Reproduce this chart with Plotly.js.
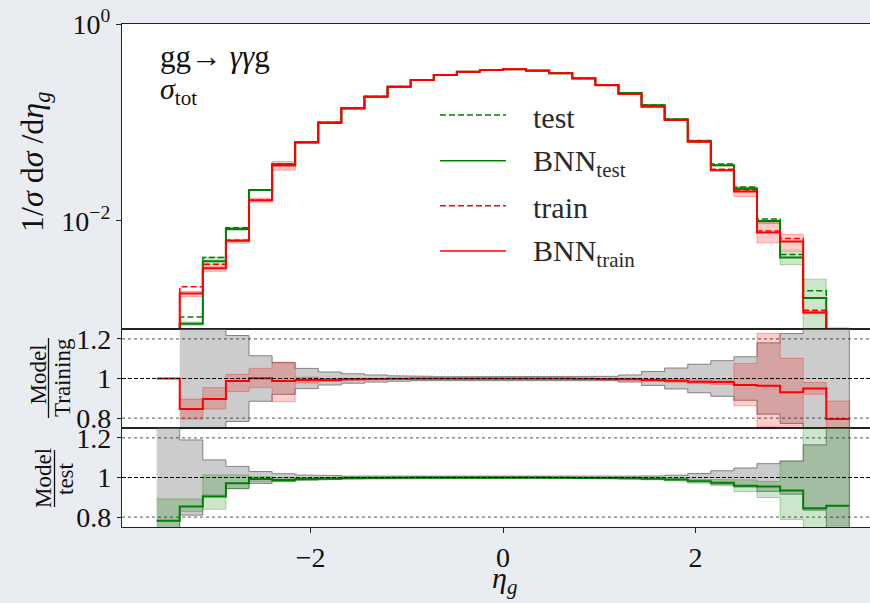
<!DOCTYPE html>
<html>
<head>
<meta charset="utf-8">
<script src="https://cdn.plot.ly/plotly-3.0.1.min.js"></script>
<style>
  html, body { margin: 0; padding: 0; background: rgb(233,236,240); overflow: hidden; }
  #chart { width: 890px; height: 603px; }
</style>
</head>
<body>
<div id="chart"></div>
<script>
// eta_g binning (30 bins of width 0.24)
const binEdges = [-3.6, -3.36, -3.12, -2.88, -2.64, -2.4, -2.16, -1.92, -1.68, -1.44, -1.2,
  -0.96, -0.72, -0.48, -0.24, 0, 0.24, 0.48, 0.72, 0.96, 1.2, 1.44, 1.68, 1.92, 2.16, 2.4,
  2.64, 2.88, 3.12, 3.36, 3.6];

// normalised distributions 1/sigma dsigma/deta_g
const test = [4.0e-4, 1.05e-3, 4.23e-3, 8.5e-3, 2.07e-2, 3.80e-2, 6.35e-2, 0.1005, 0.140, 0.183,
  0.231, 0.270, 0.303, 0.327, 0.340, 0.346, 0.336, 0.316, 0.281, 0.240,
  0.200, 0.150, 0.108, 0.0655, 0.0377, 0.0221, 0.0104, 0.00454, 0.00194, 6.0e-4];
const bnnTest = [3.12e-4, 9.0e-4, 3.88e-3, 8.25e-3, 2.05e-2, 3.75e-2, 6.30e-2, 0.0998, 0.1395, 0.1828,
  0.2308, 0.270, 0.303, 0.327, 0.340, 0.346, 0.336, 0.3158, 0.2805, 0.2394,
  0.1993, 0.1493, 0.1069, 0.0644, 0.0367, 0.0212, 0.00993, 0.00424, 0.00164, 5.1e-4];
const train = [2.0e-4, 2.13e-3, 3.62e-3, 6.35e-3, 1.62e-2, 3.70e-2, 6.30e-2, 0.0995, 0.139, 0.182,
  0.230, 0.269, 0.303, 0.327, 0.340, 0.346, 0.335, 0.315, 0.280, 0.239,
  0.195, 0.145, 0.107, 0.0645, 0.0333, 0.0205, 0.00789, 0.00661, 0.00123, 5.0e-4];
const bnnTrain = [2.0e-4, 1.82e-3, 3.30e-3, 6.25e-3, 1.62e-2, 3.65e-2, 6.25e-2, 0.0988, 0.1385, 0.1817,
  0.2298, 0.269, 0.303, 0.327, 0.340, 0.346, 0.335, 0.315, 0.2797, 0.2383,
  0.1942, 0.1439, 0.1058, 0.0635, 0.0327, 0.0198, 0.0076, 0.00615, 0.00117, 4.0e-4];

// Model / Training ratio, BNN uncertainty band and training statistics
const ratioTrain = [1.0, 0.846, 0.896, 0.987, 1.001, 0.987, 0.992, 0.993, 0.996, 0.998,
  0.999, 1.0, 1.0, 1.0, 1.0, 1.0, 1.0, 1.0, 0.999, 0.997,
  0.996, 0.992, 0.989, 0.984, 0.982, 0.967, 0.964, 0.930, 0.950, 0.795];
const trainBandLo = [null, 0.795, 0.846, 0.934, 0.954, 0.883, 0.977, 0.985, 0.990, 0.993,
  0.995, 0.996, 0.997, 0.997, 0.997, 0.997, 0.997, 0.997, 0.995, 0.993,
  0.991, 0.986, 0.981, 0.974, 0.970, 0.862, 0.757, 0.760, 0.920, 0.705];
const trainBandHi = [null, 0.896, 0.954, 1.021, 1.051, 1.082, 1.007, 1.001, 1.002, 1.003,
  1.003, 1.004, 1.003, 1.003, 1.003, 1.003, 1.003, 1.003, 1.003, 1.001,
  1.001, 0.998, 0.997, 0.994, 0.994, 1.076, 1.228, 1.102, 0.980, 0.886];
const trainStat = [null, 0.5, 0.5, 0.217, 0.115, 0.080, 0.051, 0.033, 0.024, 0.018,
  0.014, 0.011, 0.009, 0.008, 0.008, 0.008, 0.008, 0.009, 0.010, 0.011,
  0.018, 0.035, 0.053, 0.072, 0.090, 0.110, 0.180, 0.227, 0.5, 0.5];

// Model / test ratio, BNN uncertainty band and test statistics
const ratioTest = [0.781, 0.854, 0.904, 0.971, 0.992, 0.988, 0.993, 0.995, 0.997, 0.998,
  0.999, 1.0, 1.0, 1.0, 1.0, 1.0, 1.0, 0.999, 0.998, 0.997,
  0.996, 0.994, 0.990, 0.981, 0.973, 0.958, 0.955, 0.934, 0.845, 0.857];
const testBandLo = [0.67, 0.828, 0.840, 0.943, 0.980, 0.978, 0.985, 0.989, 0.992, 0.994,
  0.997, 0.997, 0.997, 0.997, 0.997, 0.997, 0.997, 0.997, 0.995, 0.993,
  0.992, 0.988, 0.982, 0.971, 0.958, 0.928, 0.899, 0.788, 0.375, 0.35];
const testBandHi = [0.892, 0.892, 1.013, 1.013, 1.004, 0.998, 1.001, 1.001, 1.002, 1.002,
  1.003, 1.003, 1.003, 1.003, 1.003, 1.003, 1.003, 1.003, 1.001, 1.001,
  1.000, 1.000, 0.998, 0.991, 0.988, 0.988, 0.980, 1.080, 1.315, 1.36];
const testStat = [0.5, 0.19, 0.089, 0.056, 0.030, 0.019, 0.013, 0.010, 0.007, 0.006,
  0.005, 0.004, 0.004, 0.004, 0.004, 0.004, 0.004, 0.004, 0.005, 0.006,
  0.007, 0.008, 0.012, 0.020, 0.034, 0.048, 0.070, 0.084, 0.165, 0.5];

const GREEN = '#008000', RED = '#ff0000';
const SERIF = '"Liberation Serif", "Times New Roman", serif';

// histogram outline drawn as a step line over the bin edges
function stepLine(vals, xa, ya, color, dash, width) {
  const x = [], y = [];
  vals.forEach((v, i) => { x.push(binEdges[i]); y.push(v); });
  x.push(binEdges[vals.length]); y.push(vals[vals.length - 1]);
  return { x, y, xaxis: xa, yaxis: ya, mode: 'lines', hoverinfo: 'skip', showlegend: false,
    line: { shape: 'hv', color, dash: dash || 'solid', width: width || 2 } };
}

// filled step band between lo and hi, one polygon per run of defined bins
function stepBand(lo, hi, xa, ya, fill, edge) {
  const traces = [];
  let run = [];
  const flush = () => {
    if (!run.length) return;
    const x = [], y = [];
    run.forEach(i => { x.push(binEdges[i], binEdges[i + 1]); y.push(hi[i], hi[i]); });
    run.slice().reverse().forEach(i => { x.push(binEdges[i + 1], binEdges[i]); y.push(lo[i], lo[i]); });
    traces.push({ x, y, xaxis: xa, yaxis: ya, mode: 'lines', fill: 'toself', fillcolor: fill,
      line: { color: edge, width: 1 }, hoverinfo: 'skip', showlegend: false });
    run = [];
  };
  lo.forEach((v, i) => { if (v === null || hi[i] === null) flush(); else run.push(i); });
  flush();
  return traces;
}

const scaleBy = (base, r) => r.map((v, i) => v === null ? null : base[i] * v);
const statLo = s => s.map(v => v === null ? null : 1 - v);
const statHi = s => s.map(v => v === null ? null : 1 + v);

const traces = [
  // main panel
  ...stepBand(scaleBy(test, testBandLo), scaleBy(test, testBandHi), 'x', 'y', 'rgba(0,128,0,0.2)', 'rgba(0,128,0,0.3)'),
  ...stepBand(scaleBy(train, trainBandLo), scaleBy(train, trainBandHi), 'x', 'y', 'rgba(255,0,0,0.2)', 'rgba(255,0,0,0.3)'),
  stepLine(test, 'x', 'y', GREEN, '6px,3px', 1.5),
  stepLine(bnnTest, 'x', 'y', GREEN, 'solid', 2),
  stepLine(train, 'x', 'y', RED, '6px,3px', 1.5),
  stepLine(bnnTrain, 'x', 'y', RED, 'solid', 2),
  // Model / Training
  ...stepBand(statLo(trainStat), statHi(trainStat), 'x2', 'y2', 'rgba(128,128,128,0.4)', 'rgba(90,90,90,0.7)'),
  ...stepBand(trainBandLo, trainBandHi, 'x2', 'y2', 'rgba(255,0,0,0.2)', 'rgba(255,0,0,0.3)'),
  stepLine(ratioTrain, 'x2', 'y2', RED, 'solid', 2),
  // Model / test
  ...stepBand(statLo(testStat), statHi(testStat), 'x3', 'y3', 'rgba(128,128,128,0.4)', 'rgba(90,90,90,0.7)'),
  ...stepBand(testBandLo, testBandHi, 'x3', 'y3', 'rgba(0,128,0,0.2)', 'rgba(0,128,0,0.3)'),
  stepLine(ratioTest, 'x3', 'y3', GREEN, 'solid', 2),
];

const SPINE = '#222';
const TICKFONT = { family: SERIF, size: 28, color: '#111' };
const xBase = { range: [-3.96, 3.96], showgrid: false, zeroline: false, showline: true, mirror: true,
  linecolor: SPINE, linewidth: 1.2, ticks: '', showticklabels: false };
const yRatio = { range: [0.75, 1.25], showgrid: false, zeroline: false, showline: true, mirror: true,
  linecolor: SPINE, linewidth: 1.2, ticks: 'outside', ticklen: 4, tickcolor: SPINE,
  tickvals: [0.8, 1, 1.2], ticktext: ['0.8', '1', '1.2'], tickfont: TICKFONT };

const pxX = px => (px - 122) / 762;
const pxY = py => (527 - py) / 503;

const shapes = [];
['y2', 'y3'].forEach(ya => {
  [0.8, 1.2].forEach(v => shapes.push({ type: 'line', xref: 'paper', yref: ya, x0: 0, x1: 1, y0: v, y1: v,
    line: { color: 'rgba(40,40,40,0.8)', width: 1, dash: 'dot' } }));
  shapes.push({ type: 'line', xref: 'paper', yref: ya, x0: 0, x1: 1, y0: 1, y1: 1,
    line: { color: '#000', width: 1.2, dash: '4px,2px' } });
});
// fraction bars of the ratio labels
shapes.push({ type: 'line', xref: 'paper', yref: 'paper', x0: pxX(48.5), x1: pxX(48.5), y0: pxY(338), y1: pxY(418),
  line: { color: '#111', width: 1.3 } });
shapes.push({ type: 'line', xref: 'paper', yref: 'paper', x0: pxX(54.5), x1: pxX(54.5), y0: pxY(450), y1: pxY(507),
  line: { color: '#111', width: 1.3 } });

// legend
const legendRows = [
  { label: 'test', color: GREEN, dash: '6px,3px', py: 115 },
  { label: 'BNN<sub>test</sub>', color: GREEN, dash: 'solid', py: 160.7 },
  { label: 'train', color: RED, dash: '6px,3px', py: 205.7 },
  { label: 'BNN<sub>train</sub>', color: RED, dash: 'solid', py: 251 },
];
legendRows.forEach(r => shapes.push({ type: 'line', xref: 'paper', yref: 'paper',
  x0: pxX(440), x1: pxX(506), y0: pxY(r.py), y1: pxY(r.py), line: { color: r.color, width: 1.5, dash: r.dash } }));

const ann = (text, px, py, size, extra) => Object.assign({ text, xref: 'paper', yref: 'paper', x: pxX(px), y: pxY(py),
  showarrow: false, xanchor: 'center', yanchor: 'middle', font: { family: SERIF, size, color: '#111' } }, extra || {});

const annotations = [
  ...legendRows.map(r => ann(r.label, 531, r.py + 2, 30, { xanchor: 'left', font: { family: SERIF, size: 30, color: '#2a2a2a' } })),
  ann('gg\u2192 <i>γγ</i>g', 158, 57, 31, { xanchor: 'left' }),
  ann('<i>σ</i><sub>tot</sub>', 158, 91, 30, { xanchor: 'left' }),
  ann('1/<i>σ</i> d<i>σ</i> /d<i>η<sub>g</sub></i>', 35, 162, 32, { textangle: -90 }),
  ann('Model', 37.5, 375, 23, { textangle: -90 }),
  ann('Training', 62, 378, 23, { textangle: -90 }),
  ann('Model', 43, 478, 23, { textangle: -90 }),
  ann('test', 65, 479, 23, { textangle: -90 }),
  ann('<i>η<sub>g</sub></i>', 505, 580, 30),
];

const layout = {
  width: 890, height: 603,
  margin: { l: 122, r: 6, t: 24, b: 76 },
  paper_bgcolor: 'rgb(233,236,240)', plot_bgcolor: '#fff',
  showlegend: false,
  font: { family: SERIF, color: '#111' },
  xaxis: Object.assign({}, xBase, { anchor: 'y' }),
  xaxis2: Object.assign({}, xBase, { anchor: 'y2', matches: 'x' }),
  xaxis3: Object.assign({}, xBase, { anchor: 'y3', matches: 'x', ticks: 'outside', ticklen: 5, tickcolor: SPINE,
    showticklabels: true, tickvals: [-2, 0, 2], tickfont: TICKFONT }),
  yaxis: { type: 'log', range: [-3.1, 0], domain: [198 / 503, 1], anchor: 'x', showgrid: false, zeroline: false,
    showline: true, mirror: true, linecolor: SPINE, linewidth: 1.2, ticks: 'outside', ticklen: 5, tickcolor: SPINE,
    tickvals: [1, 0.01], ticktext: ['10<sup>0</sup>', '10<sup>\u22122</sup>'], tickfont: TICKFONT },
  yaxis2: Object.assign({}, yRatio, { domain: [99 / 503, 198 / 503], anchor: 'x2' }),
  yaxis3: Object.assign({}, yRatio, { domain: [0, 99 / 503], anchor: 'x3' }),
  shapes, annotations,
};

Plotly.newPlot('chart', traces, layout, { displayModeBar: false, staticPlot: true });
</script>
</body>
</html>
